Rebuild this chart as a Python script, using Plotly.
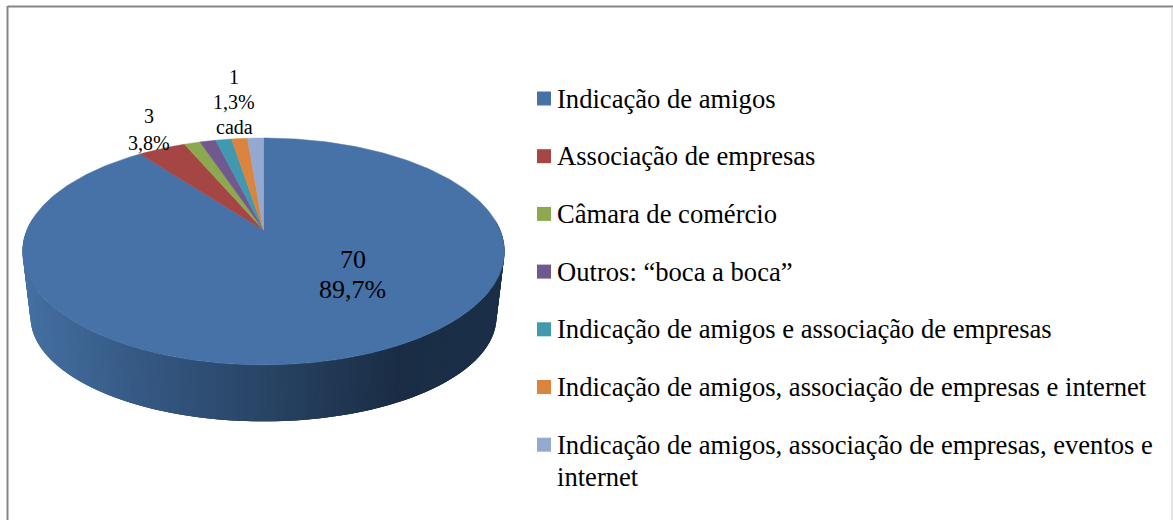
import math
import plotly.graph_objects as go

categories = ["Indicação de amigos", "Associação de empresas", "Câmara de comércio",
              "Outros: “boca a boca”", "Indicação de amigos e associação de empresas",
              "Indicação de amigos, associação de empresas e internet",
              "Indicação de amigos, associação de empresas, eventos e<br>internet"]
values = [70, 3, 1, 1, 1, 1, 1]
colors = ["#4672A8", "#A64644", "#8CA94F", "#71588F", "#4198AF", "#DB843D", "#93A9CF"]

FONT = "Liberation Serif"
CX, APEX_Y, P, A, B = 263.5, 230.0, 0.189, 236.6, 109.4
LOW_SCALE_X, LOW_SCALE_Y, LOW_CY_SHIFT = 233 / 241, 104 / 113, 65.5
WIDE_Y = 251.5


def face(theta):
    s, c = math.sin(theta), math.cos(theta)
    d = 1 + P * c
    return CX + A * s / d, APEX_Y - B * c / d


def low(theta):
    x, y = face(theta)
    return CX + (x - CX) * LOW_SCALE_X, WIDE_Y + LOW_CY_SHIFT + (y - WIDE_Y) * LOW_SCALE_Y


def lerp_color(x):
    stops = [(22, (0x45, 0x70, 0xA2)), (130, (0x36, 0x5A, 0x85)), (270, (0x28, 0x43, 0x64)),
             (400, (0x1A, 0x2D, 0x45)), (505, (0x1B, 0x2F, 0x48))]
    for (x0, c0), (x1, c1) in zip(stops, stops[1:]):
        if x <= x1:
            t = max(0, (x - x0) / (x1 - x0))
            return "rgb(%d,%d,%d)" % tuple(round(a + (b - a) * t) for a, b in zip(c0, c1))
    return "rgb(27,47,72)"


fig = go.Figure()

# side wall of the disc, as thin overlapping strips (no seams between them)
STEP = math.radians(0.75)
n = int(math.radians(190) / STEP)
for i in range(n):
    t0 = math.radians(85) + i * STEP
    t1 = t0 + 3 * STEP
    mid = face(t0 + STEP / 2)
    pts = [face(t0), face(t0 + STEP), face(t1), low(t1), low(t0 + STEP), low(t0)]
    col = lerp_color(mid[0])
    fig.add_trace(go.Scatter(x=[p[0] for p in pts], y=[p[1] for p in pts], mode="lines",
                             fill="toself", fillcolor=col, line=dict(width=0),
                             hoverinfo="skip", showlegend=False))

# top face wedges
total = sum(values)
start = 0.0
for cat, val, col in zip(categories, values, colors):
    sweep = 2 * math.pi * val / total
    k = max(2, int(sweep / math.radians(1)))
    arc = [face(start + sweep * j / k) for j in range(k + 1)]
    xs = [CX] + [p[0] for p in arc] + [CX]
    ys = [APEX_Y] + [p[1] for p in arc] + [APEX_Y]
    fig.add_trace(go.Scatter(x=xs, y=ys, mode="lines", fill="toself", fillcolor=col,
                             line=dict(color=col, width=0.5), name=cat.replace("<br>", " "),
                             hoverinfo="name", showlegend=False))
    start += sweep


def pct(v):
    return f"{v / total * 100:.1f}".replace(".", ",") + "%"


annotations = []


def label(lines, x, y0, pitch, size, anchor="center"):
    for i, line in enumerate(lines):
        annotations.append(dict(x=x, y=y0 + i * pitch, text=line, showarrow=False, xanchor=anchor,
                                yanchor="middle", align="left", xref="x", yref="y",
                                font=dict(family=FONT, size=size, color="#000000")))


label([str(values[0]), pct(values[0])], 352.5, 259.5, 30, 26)
label([str(values[1]), pct(values[1])], 149, 116, 27, 20)
label([str(values[2]), pct(values[2]), "cada"], 234, 77, 25, 20)

# legend
LEG_Y0, LEG_PITCH = 98.5, 57.7
leg_y = [LEG_Y0 + i * LEG_PITCH for i in range(len(categories))]
fig.add_trace(go.Scatter(x=[544] * len(categories), y=leg_y, mode="markers",
                         marker=dict(symbol="square", size=14, color=colors),
                         text=[c.replace("<br>", " ") for c in categories],
                         hoverinfo="text", showlegend=False))
for cat, y in zip(categories, leg_y):
    label(cat.split("<br>"), 554.5, y, 32, 26.6, anchor="left")

fig.update_layout(
    width=1173, height=520, margin=dict(l=0, r=0, t=0, b=0),
    paper_bgcolor="#FFFFFF", plot_bgcolor="#FFFFFF",
    xaxis=dict(range=[0, 1173], visible=False, fixedrange=True),
    yaxis=dict(range=[520, 0], visible=False, fixedrange=True),
    annotations=annotations,
    shapes=[
        dict(type="line", xref="x", yref="y", x0=7.5, x1=1173, y0=6.5, y1=6.5, line=dict(color="#868686", width=2)),
        dict(type="line", xref="x", yref="y", x0=7.5, x1=7.5, y0=6, y1=520, line=dict(color="#868686", width=2)),
        dict(type="line", xref="x", yref="y", x0=1172, x1=1172, y0=7, y1=520, line=dict(color="#CCCCCC", width=1)),
    ],
)
fig.write_html("out.html", config=dict(displayModeBar=False),
               post_script="document.body.style.margin='0';")
